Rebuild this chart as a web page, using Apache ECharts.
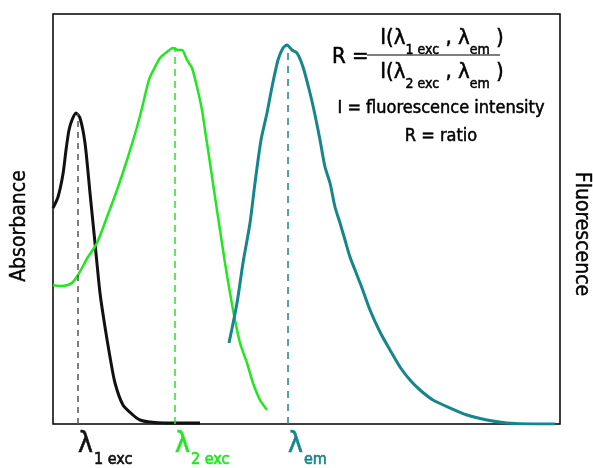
<!DOCTYPE html>
<html>
<head>
<meta charset="utf-8">
<script src="https://cdn.jsdelivr.net/npm/echarts@6/dist/echarts.min.js"></script>
<style>
  html, body { margin: 0; padding: 0; background: #fff; }
  #chart { width: 593px; height: 468px; }
</style>
</head>
<body>
<div id="chart"></div>
<script>
// wavelength (a.u.) / intensity (a.u.)
const exc1Curve = [
  [0, 216], [5, 227], [10, 250], [13, 274], [16, 294], [19, 304], [23, 311], [27, 306],
  [32, 281], [37, 231], [42, 181], [47, 131], [52, 97], [57, 67], [62, 41],
  [70, 19], [80, 9], [87, 4], [97, 2], [112, 1], [147, 1]
];
const exc2Curve = [
  [0, 139], [7, 138], [15, 139], [20, 142], [25, 149], [35, 167], [44, 181],
  [54, 207], [64, 234], [74, 264], [84, 297], [89, 316], [94, 337], [97, 347],
  [102, 357], [107, 366], [114, 372], [120, 376], [125, 374], [129, 374],
  [134, 364], [139, 356], [144, 337], [149, 314], [152, 294], [157, 261],
  [162, 227], [167, 194], [172, 161], [177, 131], [182, 104], [187, 81],
  [194, 61], [200, 41], [207, 24], [214, 14]
];
const emCurve = [
  [176, 81], [184, 121], [190, 161], [197, 201], [202, 241], [208, 284],
  [214, 311], [219, 337], [225, 364], [230, 376], [234, 379], [239, 374],
  [244, 371], [250, 357], [257, 331], [262, 309], [267, 284], [272, 257],
  [277, 241], [282, 217], [287, 201], [292, 184], [297, 167], [302, 154],
  [309, 136], [317, 114], [327, 92], [337, 74], [347, 57], [357, 44],
  [367, 34], [380, 24], [397, 16], [414, 9], [434, 4], [454, 1], [480, 0], [502, 0]
];
const peakWave = [25, 122, 235];
const peakHeight = [311, 377, 379];
const peakSub = ['1 exc', '2 exc', 'em'];
const axisNames = ['Absorbance', 'Fluorescence'];

const FONT = 'DejaVu Sans Condensed, DejaVu Sans, sans-serif';
const COLORS = { black: '#111111', green: '#22e622', teal: '#15868b' };

function peakLine(i, color, lineColor, dash) {
  const txt = { color, fontFamily: FONT, verticalAlign: 'top', textBorderColor: color, textBorderWidth: 0.6 };
  return {
    silent: true,
    symbol: 'none',
    animation: false,
    lineStyle: { type: dash, color: lineColor, width: 1.5 },
    label: {
      show: true,
      position: 'start',
      align: 'left',
      verticalAlign: 'top',
      distance: 7,
      formatter: '{l|λ}{s|' + peakSub[i] + '}',
      rich: {
        l: { ...txt, fontSize: 28, lineHeight: 28 },
        s: { ...txt, fontSize: 16, lineHeight: 16, padding: [21, 0, 0, 1] },
      },
    },
    data: [[{ coord: [peakWave[i], 0] }, { coord: [peakWave[i], peakHeight[i]] }]],
  };
}

function curve(data, color, width, yIndex, mark) {
  return {
    type: 'line',
    data,
    yAxisIndex: yIndex,
    showSymbol: false,
    smooth: 0.25,
    lineStyle: { color, width },
    itemStyle: { color },
    z: 3,
    markLine: mark,
  };
}

// zrender style keys for graphic text
const ink = { fill: '#000', stroke: '#000', lineWidth: 0.5 };
const fracRich = {
  m: { ...ink, fontSize: 22, fontFamily: FONT, verticalAlign: 'top', lineHeight: 26 },
  s: { ...ink, fontSize: 14, fontFamily: FONT, verticalAlign: 'top', lineHeight: 15, padding: [16, 0, 0, 0] },
};
const nameStyle = { fontSize: 21, fontFamily: FONT, color: '#000', textBorderColor: '#000', textBorderWidth: 0.4 };

const chart = echarts.init(document.getElementById('chart'));
chart.setOption({
  animation: false,
  grid: {
    left: 53, right: 33, top: 14, bottom: 44,
    outerBoundsMode: 'none', containLabel: false,
    show: true, borderColor: '#000', borderWidth: 1.5, backgroundColor: 'transparent',
  },
  xAxis: {
    type: 'value', min: 0, max: 507,
    axisLine: { show: false }, axisTick: { show: false }, axisLabel: { show: false }, splitLine: { show: false },
  },
  yAxis: [
    {
      type: 'value', min: 0, max: 410, position: 'left',
      name: axisNames[0], nameLocation: 'middle', nameRotate: 90, nameGap: 23,
      nameTextStyle: { ...nameStyle, padding: [0, 14, 0, 0] },
      axisLine: { show: false }, axisTick: { show: false }, axisLabel: { show: false }, splitLine: { show: false },
    },
    {
      type: 'value', min: 0, max: 410, position: 'right',
      name: axisNames[1], nameLocation: 'middle', nameRotate: -90, nameGap: 11,
      nameTextStyle: { ...nameStyle, padding: [0, 0, 0, 30] },
      axisLine: { show: false }, axisTick: { show: false }, axisLabel: { show: false }, splitLine: { show: false },
    },
  ],
  series: [
    curve(exc1Curve, COLORS.black, 3, 0, peakLine(0, COLORS.black, '#555', [6, 5])),
    curve(exc2Curve, COLORS.green, 2.5, 0, peakLine(1, COLORS.green, COLORS.green, [7, 5])),
    curve(emCurve, COLORS.teal, 3, 1, peakLine(2, COLORS.teal, COLORS.teal, [7, 6])),
  ],
  graphic: [
    { type: 'text', x: 332, y: 57, style: { ...ink, text: 'R =', font: '22px ' + FONT, verticalAlign: 'middle' } },
    { type: 'line', shape: { x1: 367, y1: 55, x2: 500, y2: 55 }, style: { stroke: '#000', lineWidth: 1.2 } },
    { type: 'text', x: 442, y: 27, style: { text: '{m|I(λ}{s|1 exc}{m| , λ}{s|em}{m| )}', rich: fracRich, align: 'center' } },
    { type: 'text', x: 442, y: 61, style: { text: '{m|I(λ}{s|2 exc}{m| , λ}{s|em}{m| )}', rich: fracRich, align: 'center' } },
    { type: 'text', x: 441, y: 108, style: { ...ink, text: 'I = fluorescence intensity', font: '18px ' + FONT, align: 'center', verticalAlign: 'middle' } },
    { type: 'text', x: 441, y: 136, style: { ...ink, text: 'R = ratio', font: '18px ' + FONT, align: 'center', verticalAlign: 'middle' } },
  ],
});
</script>
</body>
</html>
